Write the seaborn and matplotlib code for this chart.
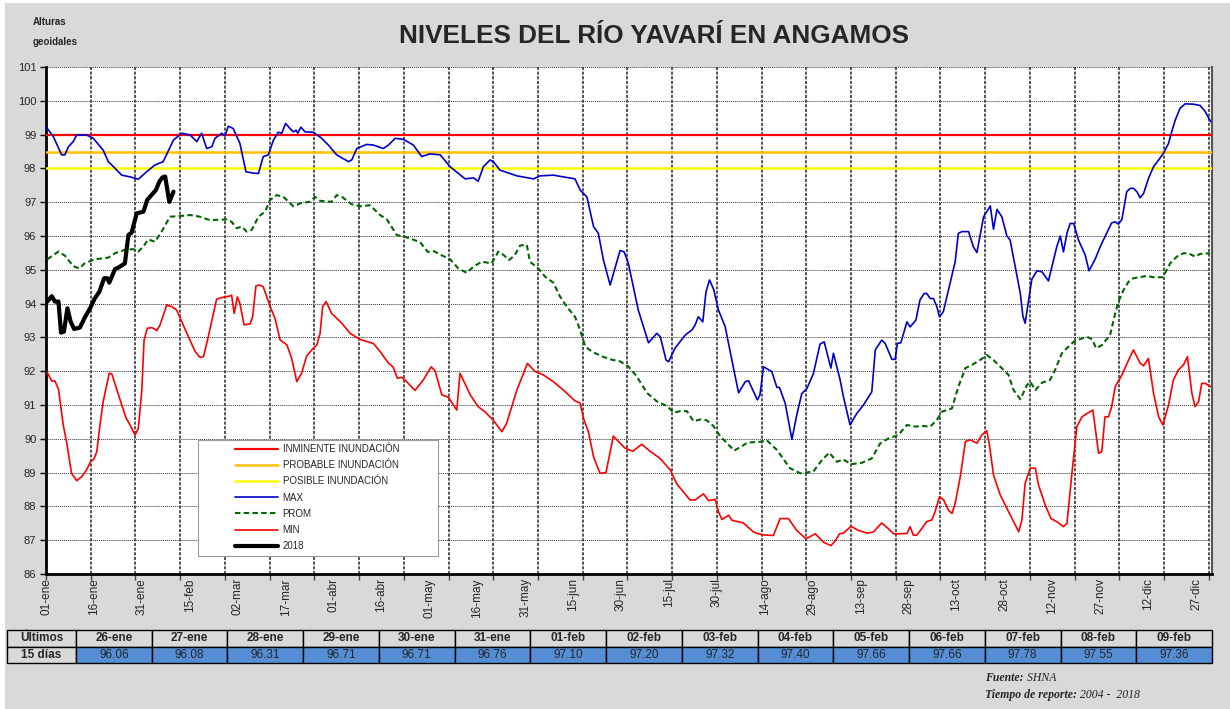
import matplotlib
matplotlib.use("Agg")
import matplotlib.pyplot as plt
from matplotlib.patches import Rectangle
import numpy as np
import pandas as pd
import seaborn as sns

# --------------------
# data (x = day of year, 0 = 01-ene)
# --------------------
max_days = [0, 2.3, 4.9, 5.9, 7, 8.5, 9.6, 12.7, 14.8, 17.9, 19.5, 20.6, 23.7, 26.3, 28.9, 31.5, 34.1, 36.7,
            39.9, 42.5, 45.1, 47.2, 48.7, 50.3, 51.9, 52.9, 55, 56, 57.1, 58.6, 60.7, 62.6, 64.9, 66.5, 68, 69.6,
            71.2, 72.7, 73.8, 75, 76.4, 77.4, 78.3, 78.8, 79.8, 81.1, 83.7, 86.3, 88.4, 91, 94.7, 95.7, 97.3,
            100.4, 102.5, 105.6, 107.2, 109.3, 111.9, 115, 117.6, 120.2, 123.4, 126.5, 131.2, 133.8, 135.3,
            136.9, 139, 140, 142.1, 147.4, 152.6, 154.7, 158.8, 165.6, 167.2, 169.3, 171.4, 172.9, 174.5, 176.6,
            179.7, 181, 182.3, 185.4, 188.6, 191.2, 192.3, 194.1, 194.9, 196.9, 200.1, 202.2, 203.2, 204.2,
            205.6, 206.6, 207.7, 209, 210.5, 212.6, 214.7, 216.8, 218.9, 219.9, 221.5, 222.7, 223.5, 224.6,
            227.2, 228.8, 229.6, 231.4, 233.5, 235, 236.6, 238.2, 240.2, 242.3, 243.6, 245.7, 246.5, 248.6,
            249.6, 251.7, 253.8, 255.9, 258.5, 259.6, 261.6, 262.7, 264.8, 265.8, 266.5, 267.6, 269.5, 270.5,
            272.3, 273.6, 274.9, 275.7, 276.8, 277.8, 278.9, 279.7, 280.9, 282.5, 284.6, 285.6, 286.7, 288.8,
            290.3, 291.4, 293.5, 295.6, 296.6, 297.7, 299.2, 300.8, 301.8, 303.4, 305, 305.8, 306.5, 307.2,
            308.6, 310.2, 311.8, 313.8, 316.4, 317.5, 318.5, 319.6, 320.6, 321.7, 323.2, 325.3, 326.5, 328.4,
            330, 331.5, 333.6, 334.7, 335.7, 336.8, 338.3, 339.4, 340.4, 341.5, 342.5, 343.6, 345.1, 346.7,
            348.3, 349.8, 351.4, 352.4, 353.5, 355, 356.6, 359.2, 361.3, 362.8, 364.6]
max_vals = [99.23, 98.94, 98.40, 98.40, 98.64, 98.79, 98.99, 98.99, 98.89, 98.54, 98.20, 98.10, 97.80, 97.75,
            97.68, 97.90, 98.10, 98.20, 98.84, 99.04, 98.99, 98.79, 99.04, 98.59, 98.64, 98.89, 99.04, 98.96,
            99.25, 99.18, 98.74, 97.90, 97.86, 97.85, 98.35, 98.40, 98.84, 99.07, 99.04, 99.33, 99.18, 99.08,
            99.13, 99.04, 99.22, 99.08, 99.07, 98.89, 98.69, 98.40, 98.20, 98.25, 98.59, 98.71, 98.69, 98.59,
            98.69, 98.89, 98.86, 98.69, 98.35, 98.43, 98.40, 98.05, 97.69, 97.72, 97.62, 98.05, 98.25, 98.20,
            97.95, 97.78, 97.69, 97.78, 97.80, 97.69, 97.36, 97.16, 96.28, 96.08, 95.29, 94.55, 95.57, 95.53,
            95.19, 93.81, 92.84, 93.12, 93.02, 92.33, 92.28, 92.68, 93.07, 93.22, 93.37, 93.61, 93.46, 94.35,
            94.70, 94.42, 93.81, 93.32, 92.33, 91.36, 91.69, 91.72, 91.39, 91.15, 91.30, 92.13, 91.99, 91.52,
            91.52, 91.05, 89.98, 90.70, 91.34, 91.49, 91.92, 92.80, 92.87, 92.09, 92.53, 91.74, 91.25, 90.41,
            90.75, 91.00, 91.39, 92.63, 92.92, 92.82, 92.35, 92.35, 92.82, 92.84, 93.46, 93.31, 93.51, 94.11,
            94.30, 94.30, 94.15, 94.15, 93.90, 93.61, 93.76, 94.40, 95.24, 96.08, 96.13, 96.13, 95.68, 95.51,
            96.57, 96.89, 96.20, 96.79, 96.57, 96.00, 95.88, 95.09, 94.30, 93.63, 93.42, 93.86, 94.72, 94.97,
            94.94, 94.67, 95.68, 96.00, 95.53, 96.08, 96.37, 96.37, 95.88, 95.44, 94.97, 95.31, 95.68, 95.98,
            96.39, 96.42, 96.35, 96.49, 97.31, 97.41, 97.41, 97.31, 97.13, 97.26, 97.70, 98.05, 98.25, 98.45,
            98.74, 99.09, 99.43, 99.78, 99.91, 99.90, 99.86, 99.69, 99.38]

prom_days = [0.4, 3.9, 6, 8.5, 10.4, 12.1, 15.3, 19.5, 21.6, 24.7, 27.3, 28.9, 30.5, 32, 34.1, 36.2, 38.8, 42,
             45.1, 48.2, 51.3, 56.6, 58.1, 59.7, 61.3, 62.8, 64.4, 66.5, 68.6, 70.1, 72.2, 74.3, 77.4, 80, 82.6,
             84.2, 85.8, 89.4, 91, 92.6, 95.7, 98.3, 101.4, 104.6, 106.7, 109.8, 112.9, 117.1, 119.5, 121.5,
             123.4, 126.5, 129.1, 131.7, 133.8, 136.4, 139.5, 141.6, 143.2, 145, 146.8, 148.4, 150.5, 151.5,
             154.1, 156.2, 158.8, 160.9, 163, 165.6, 167.2, 168.8, 170.9, 174, 177.1, 179.7, 182.3, 184.9,
             188.1, 191.2, 194.3, 196.6, 198.5, 200.6, 202.7, 204.8, 206.8, 208.9, 211, 213.1, 215.4, 217.8,
             219.6, 223.5, 225.6, 228.8, 232.9, 236.1, 240.2, 242.9, 245.2, 247.6, 249.6, 252, 255.4, 258.5,
             261.1, 263.7, 266.8, 269.5, 272.1, 274.2, 276.8, 278.9, 280.4, 283.6, 285.6, 287.8, 290.3, 292.4,
             294.5, 296.6, 299.2, 301.3, 302.9, 305, 307.1, 308.1, 309.7, 311.8, 314.3, 315.9, 318, 320.1,
             321.7, 324.3, 325.9, 327.5, 328.7, 330.5, 333.1, 334.7, 335.7, 337.3, 338.9, 340.4, 344.6, 346.7,
             349.6, 351.9, 354, 356.1, 357.6, 359.7, 361.3, 364.4]
prom_vals = [95.31, 95.54, 95.41, 95.11, 95.04, 95.19, 95.31, 95.36, 95.49, 95.59, 95.61, 95.54, 95.69, 95.90,
             95.83, 96.13, 96.57, 96.59, 96.62, 96.57, 96.47, 96.49, 96.42, 96.23, 96.28, 96.13, 96.18, 96.57,
             96.72, 97.06, 97.21, 97.16, 96.88, 96.98, 97.01, 97.16, 97.04, 97.01, 97.21, 97.16, 96.94, 96.88,
             96.91, 96.62, 96.49, 96.03, 95.96, 95.82, 95.53, 95.55, 95.45, 95.31, 95.04, 94.91, 95.09, 95.24,
             95.19, 95.54, 95.44, 95.29, 95.44, 95.72, 95.74, 95.24, 95.04, 94.80, 94.62, 94.21, 93.91, 93.61,
             93.22, 92.73, 92.58, 92.44, 92.34, 92.29, 92.14, 91.85, 91.36, 91.11, 90.97, 90.77, 90.82, 90.82,
             90.52, 90.57, 90.55, 90.38, 90.08, 89.88, 89.65, 89.78, 89.89, 89.91, 89.96, 89.67, 89.13, 88.98,
             89.03, 89.37, 89.59, 89.32, 89.39, 89.25, 89.29, 89.42, 89.86, 90.01, 90.11, 90.41, 90.36, 90.38,
             90.36, 90.56, 90.80, 90.90, 91.54, 92.09, 92.21, 92.33, 92.48, 92.33, 92.09, 91.89, 91.44, 91.17,
             91.59, 91.69, 91.44, 91.66, 91.74, 92.04, 92.53, 92.73, 92.87, 92.97, 93.02, 92.94, 92.68, 92.77,
             93.07, 93.71, 94.06, 94.40, 94.65, 94.75, 94.82, 94.78, 94.78, 95.19, 95.39, 95.49, 95.49, 95.39,
             95.47, 95.49]

min_days = [0.4, 1.8, 2.8, 3.9, 5.4, 6.5, 8, 9.6, 11.2, 12.7, 14, 15, 15.9, 16.9, 17.9, 19.8, 20.6, 23.2, 25,
            26.3, 27.9, 28.9, 30, 30.7, 31.7, 33.2, 34.7, 35.7, 37.8, 39.4, 40.9, 44.1, 46.7, 48.2, 49.3, 50.8,
            53.4, 55, 57.4, 58.1, 58.9, 59.9, 60.7, 62, 63.9, 64.7, 65.7, 66.8, 68, 70.1, 71.7, 73.3, 75.4,
            76.9, 78.5, 80, 81.6, 83.2, 84.8, 85.8, 86.6, 87.7, 89.4, 92.6, 95.2, 98.3, 102.5, 104.6, 107.2,
            108.7, 110, 111.4, 112.9, 115.5, 118.1, 120.6, 121.8, 123.9, 126, 127.5, 128.6, 129.6, 132.8,
            135.3, 137.4, 140, 142.7, 144.2, 147.4, 150.7, 153.1, 155.7, 158.8, 162, 165.6, 167.2, 168.4,
            169.8, 171.4, 173.4, 175.3, 177.6, 179.2, 181.3, 183.7, 186.5, 189.1, 192.2, 195.4, 197.5, 199,
            201.6, 203.2, 205.8, 207.4, 209.5, 210.5, 211.6, 213.7, 214.7, 218.3, 221.5, 224.1, 227.7, 229.8,
            232.4, 235, 237.9, 240.8, 243.4, 245.7, 247, 248.4, 249.6, 252, 254.3, 257, 259, 261.6, 263.7,
            265.3, 267.4, 269.5, 270.5, 271.5, 272.6, 274.2, 275.7, 277.3, 278.3, 279.7, 281, 282.5, 283.6,
            284.6, 286.2, 287.8, 289.3, 291.4, 293, 294.5, 295.4, 296.6, 298.7, 300.8, 302.9, 304.5, 305.5,
            306.5, 308.1, 309.7, 310.7, 312.8, 314.6, 316.4, 318.5, 319.6, 321.1, 322.7, 324.3, 325.9, 327.7,
            329.5, 330.5, 331.5, 332.6, 333.6, 334.7, 336.8, 338.9, 340.4, 342.5, 343.6, 345.1, 346.7, 348.3,
            349.6, 351.4, 352.9, 354.5, 356.1, 357.3, 358.7, 359.7, 360.8, 361.8, 362.9, 364.6]
min_vals = [91.96, 91.71, 91.71, 91.47, 90.41, 89.87, 88.98, 88.76, 88.88, 89.08, 89.33, 89.40, 89.62, 90.41,
            91.10, 91.94, 91.92, 91.15, 90.63, 90.41, 90.11, 90.31, 91.44, 92.92, 93.27, 93.29, 93.20, 93.37,
            93.96, 93.91, 93.81, 93.12, 92.58, 92.41, 92.43, 93.02, 94.13, 94.18, 94.22, 94.25, 93.71, 94.20,
            94.00, 93.37, 93.40, 93.62, 94.52, 94.55, 94.50, 93.93, 93.56, 92.92, 92.78, 92.38, 91.69, 91.94,
            92.45, 92.63, 92.78, 93.12, 93.91, 94.06, 93.71, 93.42, 93.12, 92.94, 92.82, 92.58, 92.24, 92.12,
            91.79, 91.82, 91.69, 91.43, 91.74, 92.13, 92.01, 91.30, 91.23, 91.00, 90.85, 91.94, 91.30, 90.95,
            90.80, 90.55, 90.21, 90.46, 91.44, 92.23, 91.99, 91.89, 91.69, 91.44, 91.12, 91.06, 90.56, 90.21,
            89.47, 88.98, 89.00, 90.08, 89.92, 89.72, 89.63, 89.84, 89.63, 89.42, 89.08, 88.66, 88.49, 88.19,
            88.19, 88.37, 88.17, 88.21, 87.84, 87.61, 87.74, 87.59, 87.51, 87.24, 87.16, 87.14, 87.64, 87.64,
            87.29, 87.04, 87.19, 86.94, 86.84, 86.97, 87.19, 87.21, 87.41, 87.29, 87.21, 87.24, 87.51, 87.34,
            87.19, 87.19, 87.20, 87.40, 87.15, 87.15, 87.35, 87.55, 87.60, 87.84, 88.29, 88.19, 87.89, 87.79,
            88.09, 88.88, 89.92, 89.97, 89.87, 90.12, 90.24, 89.77, 88.93, 88.34, 87.94, 87.55, 87.25, 87.60,
            88.68, 89.13, 89.13, 88.63, 88.04, 87.64, 87.55, 87.40, 87.50, 88.93, 90.36, 90.65, 90.75, 90.85,
            89.57, 89.62, 90.65, 90.65, 90.95, 91.54, 91.89, 92.33, 92.63, 92.24, 92.16, 92.38, 91.35, 90.65,
            90.41, 91.00, 91.74, 92.04, 92.19, 92.43, 91.35, 90.95, 91.10, 91.64, 91.64, 91.54]

y2018_days = [0.4, 1.8, 2.8, 3.9, 4.7, 5.6, 6.7, 7.7, 8.8, 10.6, 12.2, 13.8, 15.3, 16.7, 18.2, 19.2, 19.8, 21.6,
              22.9, 24.7, 25.8, 26.8, 28.4, 30.5, 31.7, 33.1, 34.4, 35.5, 36.4, 37.3, 38.6, 39.9]
y2018_vals = [94.06, 94.22, 94.06, 94.06, 93.14, 93.17, 93.86, 93.47, 93.25, 93.29, 93.60, 93.86, 94.16, 94.35,
              94.75, 94.75, 94.62, 95.02, 95.08, 95.19, 96.03, 96.10, 96.67, 96.72, 97.07, 97.22, 97.36, 97.61,
              97.73, 97.76, 97.01, 97.31]

thresholds = [99.0, 98.5, 98.0]
threshold_names = ['INMINENTE INUNDACIÓN', 'PROBABLE INUNDACIÓN', 'POSIBLE INUNDACIÓN']

x_labels = ['01-ene', '16-ene', '31-ene', '15-feb', '02-mar', '17-mar', '01-abr', '16-abr', '01-may', '16-may',
            '31-may', '15-jun', '30-jun', '15-jul', '30-jul', '14-ago', '29-ago', '13-sep', '28-sep', '13-oct',
            '28-oct', '12-nov', '27-nov', '12-dic', '27-dic']

last_dates = ['26-ene', '27-ene', '28-ene', '29-ene', '30-ene', '31-ene', '01-feb', '02-feb', '03-feb',
              '04-feb', '05-feb', '06-feb', '07-feb', '08-feb', '09-feb']
last_vals = [96.06, 96.08, 96.31, 96.71, 96.71, 96.76, 97.10, 97.20, 97.32, 97.40, 97.66, 97.66, 97.78, 97.55,
             97.36]

# --------------------
# style
# --------------------
sns.set_style('white')
plt.rcParams['font.family'] = ['Liberation Sans', 'DejaVu Sans']

W, H = 1230, 709
BG = '#d9d9d9'
fig = plt.figure(figsize=(W / 100, H / 100), dpi=100, facecolor='white')
fig.patches.append(Rectangle((5 / W, 0), 1, 1 - 3 / H, transform=fig.transFigure, facecolor=BG,
                             edgecolor='none', zorder=-10))


def fx(px):
    return px / W


def fy(py):
    return 1 - py / H


ax = fig.add_axes([fx(46), fy(574), fx(1212) - fx(46), fy(67) - fy(574)])
ax.set_facecolor('white')

# thresholds
for val, name, col, lw in zip(thresholds, threshold_names, ['#ff0000', '#ffc000', '#ffff00'], [1.6, 1.8, 1.8]):
    ax.axhline(val, color=col, lw=lw, label=name, zorder=3)

sns.lineplot(x=max_days, y=max_vals, ax=ax, color='#0000cc', lw=1.2, label='MAX', estimator=None, sort=False,
             zorder=4)
sns.lineplot(x=prom_days, y=prom_vals, ax=ax, color='#006600', lw=1.5, label='PROM', estimator=None, sort=False,
             linestyle=(0, (2.6, 1.6)), zorder=4)
sns.lineplot(x=min_days, y=min_vals, ax=ax, color='#ff0000', lw=1.2, label='MIN', estimator=None, sort=False,
             zorder=4)
sns.lineplot(x=y2018_days, y=y2018_vals, ax=ax, color='black', lw=3.0, label='2018', estimator=None, sort=False,
             zorder=5)

ax.set_xlim(0, 365)
ax.set_ylim(86, 101)
ax.set_yticks(range(86, 102))
ax.xaxis.remove_overlapping_locs = False
ax.set_xticks(range(0, 365, 14))
ax.set_xticklabels([])
ax.set_xticks(range(0, 361, 15), minor=True)
ax.set_xticklabels(x_labels, minor=True, rotation=90, fontsize=8.5, va='top', ha='center')
ax.tick_params(axis='x', which='major', direction='out', length=4, width=1, color='#444444', bottom=True)
ax.tick_params(axis='x', which='minor', length=0, pad=3, bottom=True)
ax.tick_params(axis='y', direction='out', length=4, width=1, color='black', labelsize=8, pad=3, left=True)
ax.set_xlabel('')
ax.set_ylabel('')

ax.grid(False)
ax.grid(axis='y', which='major', color='#333333', lw=0.7, linestyle=(0, (1, 1)), zorder=1)
ax.grid(axis='x', which='major', color='#555555', lw=1.4, linestyle=(0, (1.6, 0.8)), zorder=1)
ax.set_axisbelow(True)

for side in ['left', 'bottom']:
    ax.spines[side].set_color('black')
    ax.spines[side].set_linewidth(2)
ax.spines['top'].set_visible(False)
ax.spines['right'].set_color('#555555')
ax.spines['right'].set_linewidth(1.5)

# legend box
ax.add_patch(Rectangle((fx(198), fy(556)), fx(438) - fx(198), fy(440) - fy(556), transform=fig.transFigure,
                       facecolor='white', edgecolor='#9a9a9a', lw=0.8, zorder=6, clip_on=False))
leg = ax.legend(loc='upper left', bbox_to_anchor=(fx(235), fy(444)), bbox_transform=fig.transFigure,
                frameon=False, fontsize=7, handlelength=4.4, handletextpad=0.5, labelspacing=0.64,
                borderpad=0, borderaxespad=0)
leg.set_zorder(7)

# titles
fig.text(fx(654), fy(36), 'NIVELES DEL RÍO YAVARÍ EN ANGAMOS', ha='center', va='center', fontsize=18.8,
         fontweight='bold')
fig.text(fx(33), fy(22), 'Alturas', ha='left', va='center', fontsize=7, fontweight='bold')
fig.text(fx(33), fy(42), 'geoidales', ha='left', va='center', fontsize=7, fontweight='bold')

# last 15 days table
tab_ax = fig.add_axes([fx(7), fy(663), fx(1212) - fx(7), fy(630) - fy(663)])
tab_ax.axis('off')
first_w = 69
col_w = (1212 - 7 - first_w) / len(last_dates)
cells = [['Últimos'] + last_dates, ['15 días'] + [f'{v:.2f}' for v in last_vals]]
tbl = tab_ax.table(cellText=cells, colWidths=[first_w] + [col_w] * len(last_dates), bbox=[0, 0, 1, 1],
                   cellLoc='center')
tbl.auto_set_font_size(False)
for (r, c), cell in tbl.get_celld().items():
    cell.set_edgecolor('black')
    cell.set_linewidth(1.0)
    txt = cell.get_text()
    txt.set_fontsize(8.5)
    if r == 0 or c == 0:
        cell.set_facecolor(BG)
        txt.set_fontweight('bold')
    else:
        cell.set_facecolor('#558ed5')

# source note
serif = ['Liberation Serif', 'DejaVu Serif']
t1 = fig.text(fx(985), fy(678), 'Fuente:', fontsize=8.5, family=serif, style='italic', fontweight='bold',
              va='center')
t2 = fig.text(fx(985), fy(695), 'Tiempo de reporte:', fontsize=8.5, family=serif, style='italic',
              fontweight='bold', va='center')
tab_ax.annotate(' SHNA', xy=(1, 0), xycoords=t1, va='bottom', ha='left', fontsize=8.5, family=serif,
                style='italic', color='#222222', annotation_clip=False)
tab_ax.annotate(' 2004 -  2018', xy=(1, 0), xycoords=t2, va='bottom', ha='left', fontsize=8.5, family=serif,
                style='italic', color='#222222', annotation_clip=False)

fig.savefig('out.png', dpi=100, facecolor=fig.get_facecolor())
